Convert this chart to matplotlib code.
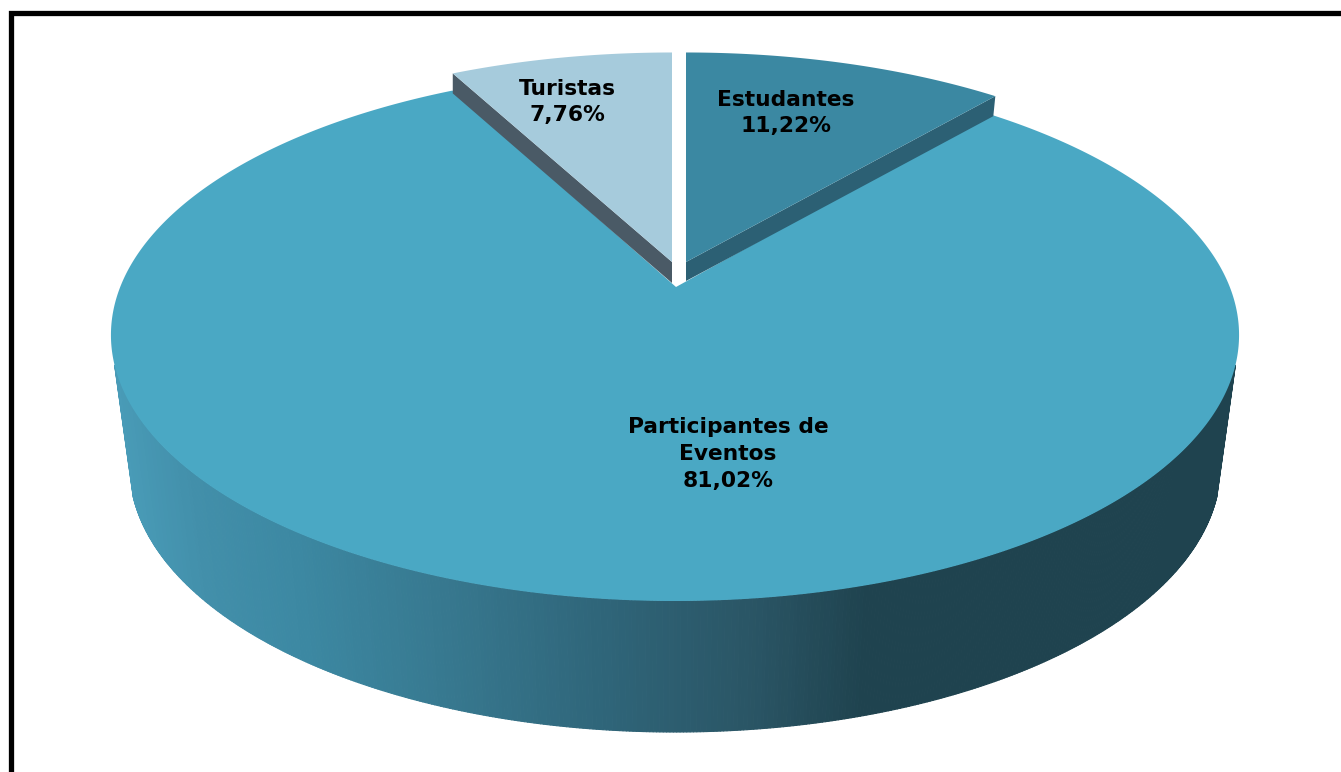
import numpy as np
import matplotlib
matplotlib.use("Agg")
import matplotlib.pyplot as plt
from matplotlib.collections import PolyCollection
from matplotlib.colors import LinearSegmentedColormap

labels = ["Estudantes", "Participantes de\nEventos", "Turistas"]
values = [11.22, 81.02, 7.76]
top_colors = ["#3B88A2", "#4AA8C4", "#A6CBDC"]
side_colors = ["#2C6074", None, "#4A5A66"]
label_xy = [(786, 113), (728, 454), (567, 102)]

# projective disc layout (pixel space)
APEX = (675.0, 285.0)
RX, RY, K = 554.0, 256.6, 0.188


def project(theta, r=1.0):
    """theta clockwise from 12 o'clock -> offsets from the apex."""
    u, v = r * np.sin(theta), r * np.cos(theta)
    d = 1 + K * v
    return RX * u / d, -RY * v / d


def arc(a0, a1, n=300):
    return np.linspace(a0, a1, n)


fig = plt.figure(figsize=(13.41, 7.72), dpi=100, facecolor="white")
ax = fig.add_axes([0, 0, 1, 1])
ax.set_xlim(0, 1341)
ax.set_ylim(772, 0)
ax.axis("off")

# frame: only the left and top edges are visible
ax.plot([11.3, 11.3, 1341], [772, 13, 13], color="black", lw=3.8,
        solid_joinstyle="miter", solid_capstyle="butt", zorder=1)

edges = np.cumsum([0] + values) / sum(values) * 2 * np.pi

# side wall of the large slice
side_cmap = LinearSegmentedColormap.from_list(
    "side",
    [(0.00, "#4A9DB9"), (0.08, "#428FAA"), (0.17, "#3C88A2"), (0.30, "#37788F"),
     (0.44, "#2F6579"), (0.57, "#2A5565"), (0.67, "#1F434F"), (1.00, "#1F434F")])
th = arc(np.pi / 2 + 0.3, 3 * np.pi / 2 - 0.3, 500)
xo, yo = project(th)
X1, Y1 = APEX[0] + xo, APEX[1] + yo
X2, Y2 = APEX[0] + 0.967 * xo, APEX[1] + yo + 131
quads, cols = [], []
for i in range(len(th) - 1):
    quads.append([(X1[i], Y1[i]), (X1[i + 1], Y1[i + 1]),
                  (X2[i + 1], Y2[i + 1]), (X2[i], Y2[i])])
    cols.append(side_cmap(np.clip((0.5 * (X1[i] + X2[i]) - 110) / 1128, 0, 1)))
ax.add_collection(PolyCollection(quads, facecolors=cols, edgecolors=cols,
                                 linewidths=0.8, zorder=2))

# large slice, top surface
th = arc(edges[1], edges[2], 600)
xo, yo = project(th)
ax.fill(np.r_[APEX[0] + 1, APEX[0] + xo], np.r_[APEX[1] + 2, APEX[1] + yo],
        color=top_colors[1], lw=0, zorder=3)

# exploded slices
offsets = {0: (11, -23, 19), 2: (-3, -23, 21)}
for idx, (dx, dy, tip_depth) in offsets.items():
    th = arc(edges[idx], edges[idx + 1], 200)
    xo, yo = project(th)
    tx, ty = APEX[0] + dx, APEX[1] + dy
    xs, ys = tx + 0.985 * xo, ty + 0.97 * yo
    # radial side wall
    if idx == 0:
        cx, cy = xs[-1], ys[-1]
    else:
        cx, cy = xs[0], ys[0]
    ax.fill([tx, cx, cx - 2 if idx == 0 else cx, tx],
            [ty, cy, cy + 20, ty + tip_depth],
            color=side_colors[idx], lw=0, zorder=4)
    ax.fill(np.r_[tx, xs], np.r_[ty, ys], color=top_colors[idx], lw=0, zorder=5)

# labels
for name, val, (lx, ly) in zip(labels, values, label_xy):
    txt = f"{name}\n{val:.2f}%".replace(".", ",")
    ax.text(lx, ly, txt, ha="center", va="center", fontsize=15.7,
            fontweight="bold", color="black", family="DejaVu Sans",
            linespacing=1.42, zorder=6)

fig.savefig("out.png", dpi=100, facecolor="white")
